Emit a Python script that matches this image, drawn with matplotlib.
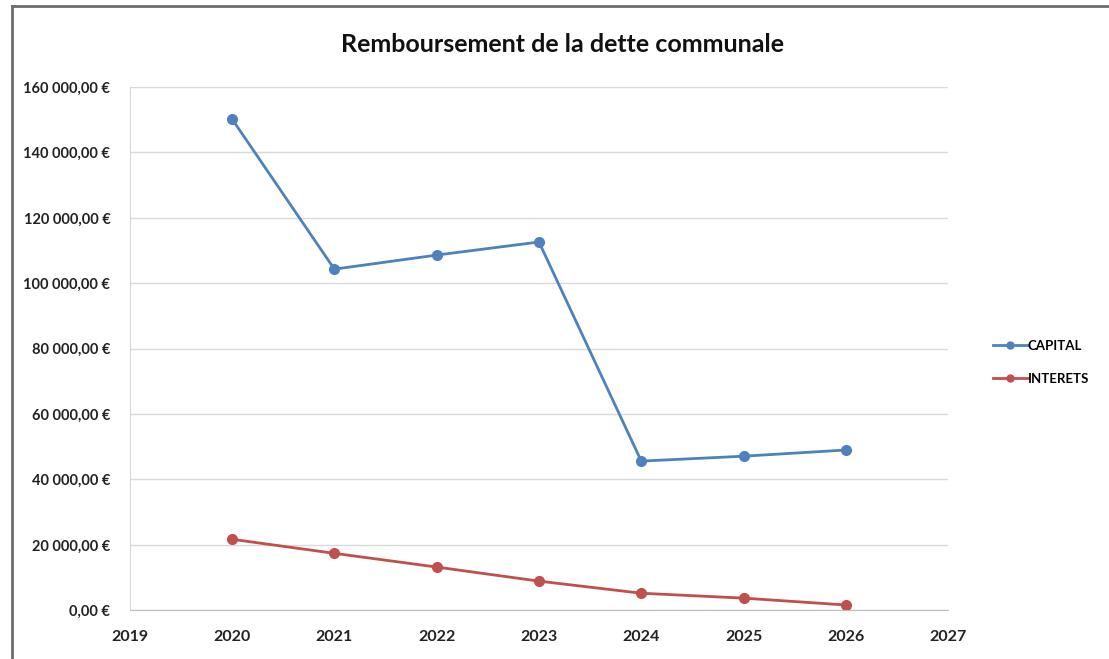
import matplotlib
matplotlib.use("Agg")
import matplotlib.pyplot as plt
from matplotlib.lines import Line2D
from matplotlib.ticker import FuncFormatter, MultipleLocator

plt.rcParams['font.family'] = ['Lato', 'DejaVu Sans']

years = [2020, 2021, 2022, 2023, 2024, 2025, 2026]
capital = [150200, 104300, 108600, 112600, 45600, 47100, 49000]
interets = [21700, 17400, 13200, 8900, 5200, 3700, 1600]

blue = '#4f81bd'
red = '#c0504d'


def euro(v, pos):
    s = f"{v:,.2f}".replace(",", " ").replace(".", ",")
    return s + " €"


fig = plt.figure(figsize=(11.09, 6.59), dpi=100)
ax = fig.add_axes([0.117, 0.074, 0.738, 0.794])

ax.plot(years, capital, color=blue, lw=2, marker='o', ms=7, label='CAPITAL')
ax.plot(years, interets, color=red, lw=2, marker='o', ms=7, label='INTERETS')

ax.set_xlim(2019, 2027)
ax.set_ylim(0, 160000)
ax.yaxis.set_major_locator(MultipleLocator(20000))
ax.yaxis.set_major_formatter(FuncFormatter(euro))
ax.xaxis.set_major_locator(MultipleLocator(1))
ax.grid(axis='y', color='#d9d9d9', lw=1)
ax.set_axisbelow(True)
for side in ['top', 'right']:
    ax.spines[side].set_visible(False)
ax.spines['left'].set_color('#d9d9d9')
ax.spines['bottom'].set_color('#bfbfbf')
ax.tick_params(axis='y', length=0, labelsize=10.5, pad=14)
ax.tick_params(axis='x', length=0, labelsize=11.5, pad=14)
for lab in ax.get_xticklabels() + ax.get_yticklabels():
    lab.set_fontweight('bold')
    lab.set_color('#222222')

fig.text(0.507, 0.933, 'Remboursement de la dette communale', ha='center', va='center',
         fontsize=18, fontweight='bold', color='#111111')

handles = [Line2D([], [], color=blue, lw=2, marker='o', ms=5),
           Line2D([], [], color=red, lw=2, marker='o', ms=5)]
fig.legend(handles, ['CAPITAL', 'INTERETS'], loc='center left', bbox_to_anchor=(0.885, 0.45),
           frameon=False, handlelength=2.6, handletextpad=0.0, labelspacing=1.6,
           prop={'size': 9.5, 'weight': 'bold'})

# frame around the chart
fig.add_artist(Line2D([12 / 1109, 12 / 1109], [0, 1 - 6 / 659], color='#6d6d6d', lw=2))
fig.add_artist(Line2D([12 / 1109, 1], [1 - 6 / 659, 1 - 6 / 659], color='#6d6d6d', lw=2))

fig.savefig('out.png')
